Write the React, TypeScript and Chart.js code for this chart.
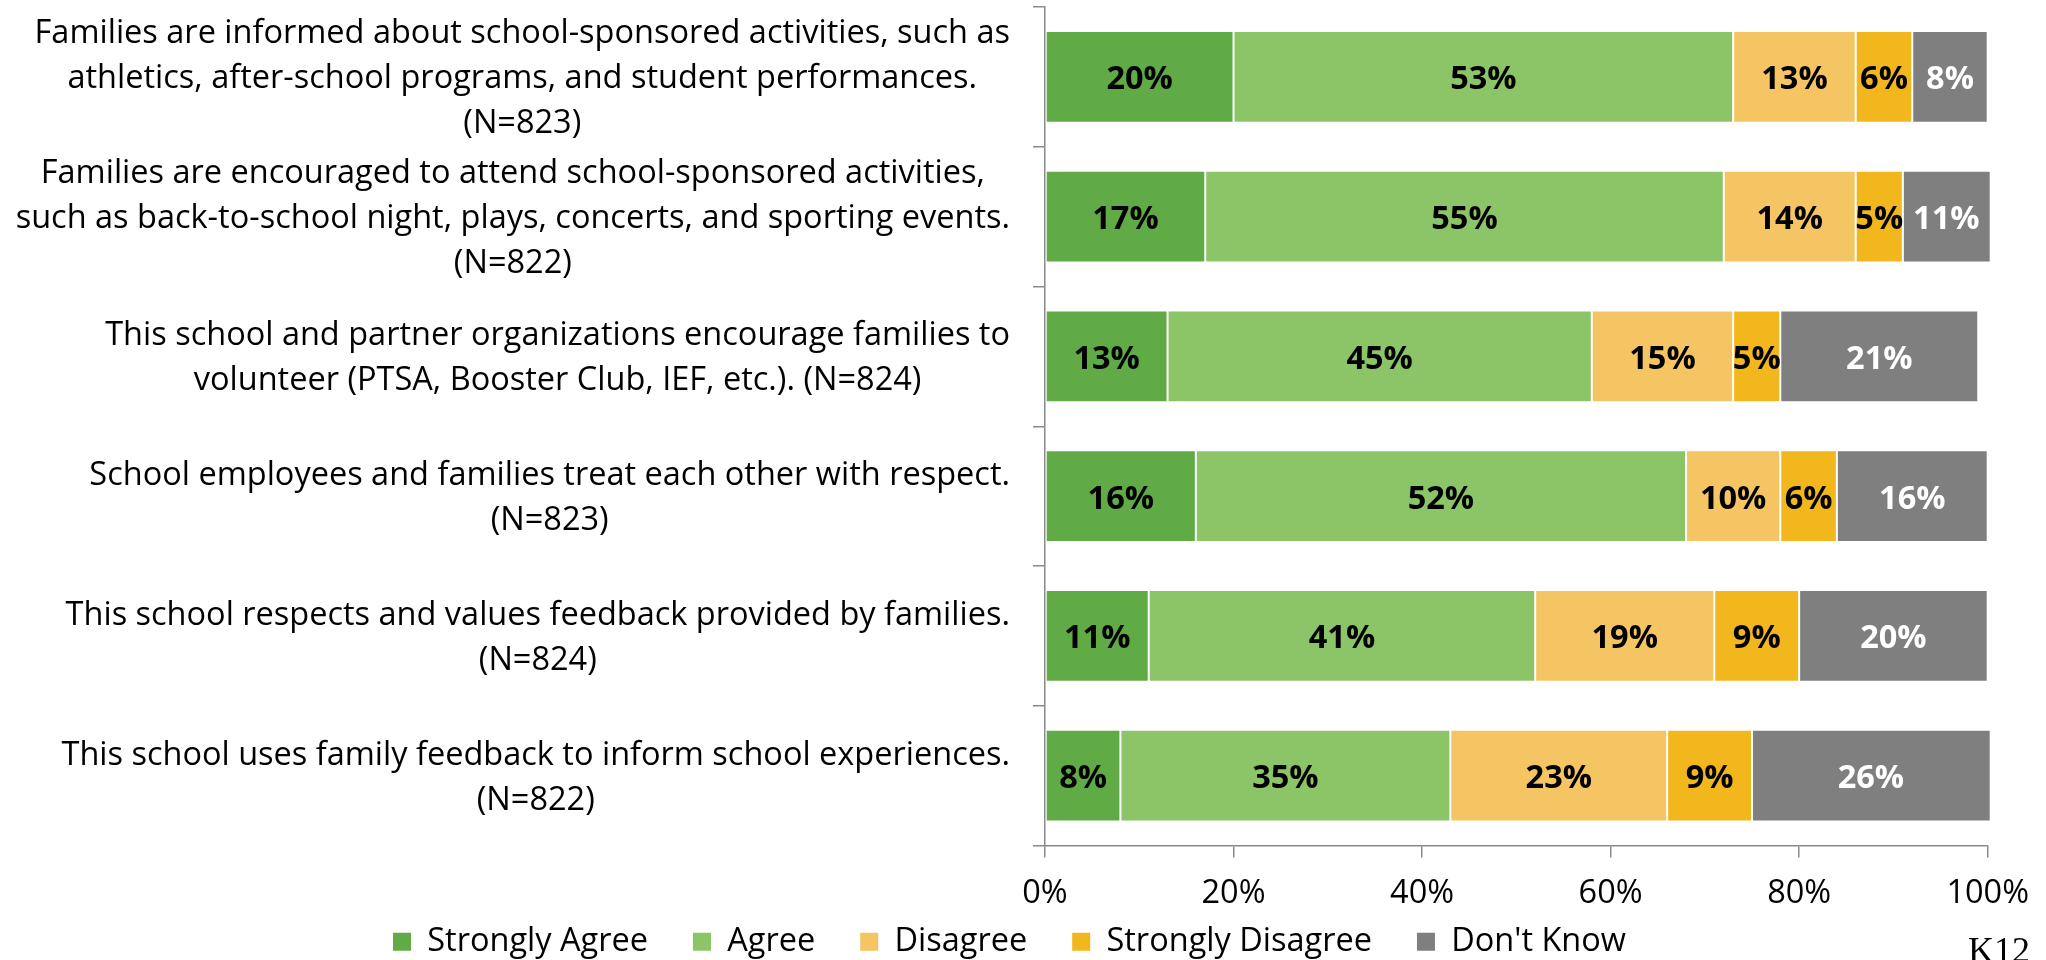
import React, { useEffect, useRef } from "react";
import { Chart, registerables } from "chart.js";

Chart.register(...registerables);

// ---------- data ----------
const categories: string[][] = [
  [
    "Families are informed about school-sponsored activities, such as",
    "athletics, after-school programs, and student performances.",
    "(N=823)",
  ],
  [
    "Families are encouraged to attend school-sponsored activities,",
    "such as back-to-school night, plays, concerts, and sporting events.",
    "(N=822)",
  ],
  [
    "This school and partner organizations encourage families to",
    "volunteer (PTSA, Booster Club, IEF, etc.). (N=824)",
  ],
  ["School employees and families treat each other with respect.", "(N=823)"],
  ["This school respects and values feedback provided by families.", "(N=824)"],
  ["This school uses family feedback to inform school experiences.", "(N=822)"],
];

const seriesNames = ["Strongly Agree", "Agree", "Disagree", "Strongly Disagree", "Don't Know"];
const stronglyAgree = [20, 17, 13, 16, 11, 8];
const agree = [53, 55, 45, 52, 41, 35];
const disagree = [13, 14, 15, 10, 19, 23];
const stronglyDisagree = [6, 5, 5, 6, 9, 9];
const dontKnow = [8, 11, 21, 16, 20, 26];
const xTickValues = [0, 20, 40, 60, 80, 100];
const footnote = "K12";

// ---------- styles ----------
const barColors = ["#60AB46", "#8CC468", "#F6C563", "#F2B71C", "#7F7F7F"];
const valueLabelColors = ["#000000", "#000000", "#000000", "#000000", "#FFFFFF"];
const FONT = "'Open Sans'";
const FS = 32.5;
const axisColor = "#8A8A8A";

const W = 2046;
const H = 968;

const textPlugin = {
  id: "customText",
  afterDatasetsDraw(chart: any) {
    const ctx = chart.ctx;
    const area = chart.chartArea;
    ctx.save();
    ctx.font = `bold ${FS}px ${FONT}`;
    ctx.textAlign = "center";
    ctx.textBaseline = "alphabetic";
    chart.data.datasets.forEach((ds: any, di: number) => {
      const meta = chart.getDatasetMeta(di);
      meta.data.forEach((bar: any, i: number) => {
        const v = ds.data[i];
        const { x, base, y } = bar.getProps(["x", "base", "y"], true);
        const l = Math.max(Math.min(x, base), area.left);
        const r = Math.min(Math.max(x, base), area.right + 2);
        ctx.fillStyle = valueLabelColors[di];
        ctx.fillText(`${v}%`, (l + r) / 2, y + 12.5);
      });
    });
    ctx.restore();
  },
  afterDraw(chart: any) {
    const ctx = chart.ctx;
    const area = chart.chartArea;
    const yScale = chart.scales.y;
    ctx.save();
    ctx.font = `${FS}px ${FONT}`;
    ctx.fillStyle = "#000000";
    ctx.textAlign = "center";
    ctx.textBaseline = "alphabetic";
    const rightEdge = area.left - 35;
    const lineGap = 45;
    (chart.data.labels as string[][]).forEach((lines, i) => {
      const cy = yScale.getPixelForTick(i);
      const blockW = Math.max(...lines.map((t) => ctx.measureText(t).width));
      const cx = rightEdge - blockW / 2;
      lines.forEach((t, j) => {
        ctx.fillText(t, cx, cy + 11.5 + (j - (lines.length - 1) / 2) * lineGap);
      });
    });
    // footnote
    ctx.font = `36px "Liberation Serif", serif`;
    ctx.textAlign = "left";
    ctx.fillText(footnote, 1968, 962);
    ctx.restore();
  },
};

export default function App() {
  const ref = useRef<HTMLCanvasElement | null>(null);

  useEffect(() => {
    if (!ref.current) return;
    const seriesValues = [stronglyAgree, agree, disagree, stronglyDisagree, dontKnow];
    const chart = new Chart(ref.current, {
      type: "bar",
      data: {
        labels: categories,
        datasets: seriesNames.map((name, i) => ({
          label: name,
          data: seriesValues[i],
          backgroundColor: barColors[i],
          borderColor: "#FFFFFF",
          borderWidth: 1,
          borderSkipped: false,
          categoryPercentage: 1,
          barPercentage: 0.655,
          clip: { left: 0, right: 2, top: 0, bottom: 0 },
        })),
      },
      options: {
        indexAxis: "y",
        animation: false,
        responsive: false,
        maintainAspectRatio: false,
        devicePixelRatio: 1,
        layout: { padding: { left: 30, right: 57, top: 7, bottom: 0 } },
        plugins: {
          legend: {
            position: "bottom",
            labels: {
              font: { family: FONT, size: FS },
              color: "#000000",
              boxWidth: 18,
              boxHeight: 18,
              padding: 45,
              generateLabels: (chart: any) => {
                const items = Chart.defaults.plugins.legend.labels.generateLabels(chart);
                return items.map((it: any) => ({
                  ...it,
                  lineWidth: 0,
                  strokeStyle: it.fillStyle,
                }));
              },
            },
          },
          tooltip: { enabled: false },
        },
        scales: {
          x: {
            stacked: true,
            min: 0,
            max: 100,
            afterBuildTicks: (scale: any) => {
              scale.ticks = xTickValues.map((v) => ({ value: v }));
            },
            afterFit: (scale: any) => {
              scale.height = 35;
              scale._computeLabelArea = () => undefined;
            },
            ticks: {
              font: { family: FONT, size: FS },
              color: "#000000",
              padding: 17,
              maxRotation: 0,
              callback: (v: any) => `${v}%`,
            },
            grid: {
              drawOnChartArea: false,
              drawTicks: true,
              tickLength: 12,
              color: axisColor,
              lineWidth: 1.5,
            },
            border: { display: true, color: axisColor, width: 1.5 },
          },
          y: {
            stacked: true,
            afterFit: (scale: any) => {
              scale.width = 1015;
            },
            ticks: { display: false },
            grid: {
              drawOnChartArea: false,
              drawTicks: true,
              tickLength: 12,
              color: axisColor,
              lineWidth: 1.5,
            },
            border: { display: true, color: axisColor, width: 1.5 },
          },
        },
      },
      plugins: [textPlugin],
    } as any);
    return () => chart.destroy();
  }, []);

  return (
    <div
      style={{
        position: "fixed",
        left: 0,
        top: 0,
        width: W,
        height: 960,
        overflow: "hidden",
        background: "#FFFFFF",
      }}
    >
      <canvas ref={ref} width={W} height={H} style={{ width: W, height: H, display: "block" }} />
    </div>
  );
}
